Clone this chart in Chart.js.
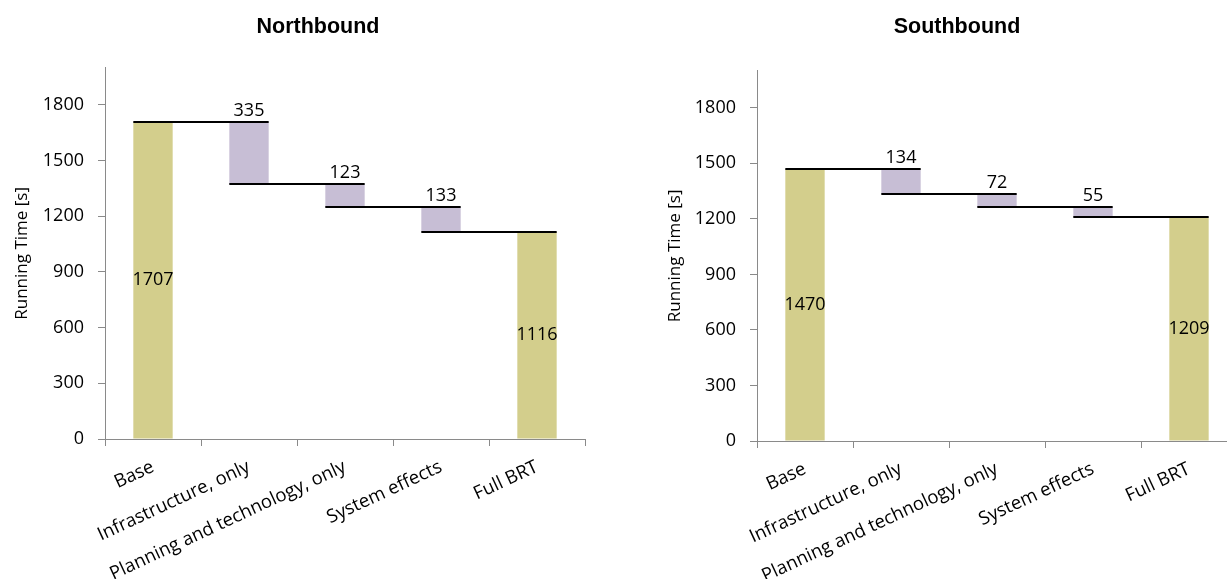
<!DOCTYPE html>
<html>
<head>
<meta charset="utf-8">
<script src="https://cdn.jsdelivr.net/npm/chart.js@4.4.1/dist/chart.umd.min.js"></script>
<style>
  html, body { margin: 0; padding: 0; background: #fff; overflow: hidden; }
  body { width: 1227px; height: 579px; position: relative; }
  .panel { position: absolute; top: 0; height: 579px; }
  #north-panel { left: 0; width: 630px; }
  #south-panel { left: 636px; width: 622px; }
</style>
</head>
<body>
<div class="panel" id="north-panel"><canvas id="chart-north"></canvas></div>
<div class="panel" id="south-panel"><canvas id="chart-south"></canvas></div>
<script>
const categories = ['Base', 'Infrastructure, only', 'Planning and technology, only', 'System effects', 'Full BRT'];
const northValues = [1707, 335, 123, 133, 1116];
const southValues = [1470, 134, 72, 55, 1209];
const yTicks = [0, 300, 600, 900, 1200, 1500, 1800];
const yMax = 2000;

const TOTAL_COLOR = '#d3ce8c';
const STEP_COLOR = '#c7bed5';
const AXIS_GRAY = '#8a8a8a';
const TEXT_FONT = 'Open Sans';

// first and last bars stand on zero, the middle ones hang from the running level
function buildSteps(values) {
    let level = values[0];
    return values.map((v, i) => {
        if (i === 0 || i === values.length - 1) return [0, v];
        const top = level;
        level -= v;
        return [level, top];
    });
}

const connectorPlugin = {
    id: 'connectors',
    afterDatasetsDraw(chart) {
        const ctx = chart.ctx;
        const bars = chart.getDatasetMeta(0).data;
        const steps = chart.data.datasets[0].data;
        const y = chart.scales.y;
        ctx.save();
        ctx.strokeStyle = '#000';
        ctx.lineWidth = 2;
        for (let i = 0; i < bars.length - 1; i++) {
            const level = i === 0 ? steps[0][1] : steps[i][0];
            const py = Math.round(y.getPixelForValue(level));
            ctx.beginPath();
            ctx.moveTo(bars[i].x - bars[i].width / 2, py);
            ctx.lineTo(bars[i + 1].x + bars[i + 1].width / 2, py);
            ctx.stroke();
        }
        ctx.restore();
    }
};

const valueLabelPlugin = {
    id: 'valueLabels',
    afterDatasetsDraw(chart) {
        const ctx = chart.ctx;
        const ds = chart.data.datasets[0];
        const bars = chart.getDatasetMeta(0).data;
        ctx.save();
        ctx.font = '18px "' + TEXT_FONT + '"';
        ctx.fillStyle = '#000';
        ctx.textAlign = 'center';
        bars.forEach((bar, i) => {
            const text = String(ds.values[i]);
            if (i === 0 || i === bars.length - 1) {
                ctx.textBaseline = 'middle';
                ctx.fillText(text, bar.x, (bar.y + bar.base) / 2);
            } else {
                ctx.textBaseline = 'alphabetic';
                ctx.fillText(text, bar.x, bar.y - 6);
            }
        });
        ctx.restore();
    }
};

function makeChart(id, title, values, cfg) {
    const ctx = document.getElementById(id).getContext('2d');
    return new Chart(ctx, {
        type: 'bar',
        data: {
            labels: categories,
            datasets: [{
                data: buildSteps(values),
                values: values,
                backgroundColor: values.map((v, i) => (i === 0 || i === values.length - 1) ? TOTAL_COLOR : STEP_COLOR),
                borderWidth: 0,
                categoryPercentage: 1,
                barPercentage: 0.41
            }]
        },
        options: {
            responsive: true,
            maintainAspectRatio: false,
            animation: false,
            layout: {
                padding: { left: cfg.padLeft, right: 0, top: 0, bottom: 0 }
            },
            plugins: {
                legend: { display: false },
                tooltip: { enabled: false },
                title: {
                    display: true,
                    text: title,
                    color: '#000',
                    font: { family: 'Liberation Sans', size: 21.5, weight: 'bold' },
                    padding: { top: 14, bottom: cfg.titleGap }
                }
            },
            scales: {
                x: {
                    grid: { display: true, drawOnChartArea: false, tickLength: 7, color: AXIS_GRAY },
                    border: { color: AXIS_GRAY },
                    ticks: {
                        autoSkip: false,
                        minRotation: 25,
                        maxRotation: 25,
                        padding: 10,
                        color: '#000',
                        font: { family: TEXT_FONT, size: 18.5 }
                    },
                    afterFit(scale) { scale.height = cfg.xHeight; }
                },
                y: {
                    min: 0,
                    max: yMax,
                    afterBuildTicks(scale) { scale.ticks = yTicks.map(v => ({ value: v })); },
                    grid: { display: true, drawOnChartArea: false, tickLength: 7, color: AXIS_GRAY },
                    border: { color: AXIS_GRAY },
                    ticks: {
                        padding: 14,
                        color: '#000',
                        font: { family: TEXT_FONT, size: 18 },
                        callback: v => String(v)
                    },
                    title: {
                        display: true,
                        text: 'Running Time [s]',
                        color: '#000',
                        font: { family: TEXT_FONT, size: 17 },
                        padding: { top: cfg.yTitlePad, bottom: 0 }
                    },
                    afterFit(scale) { scale.width = cfg.yWidth; }
                },
                // empty spacer on the right so the title sits where the original has it
                spacer: {
                    type: 'linear',
                    position: 'right',
                    grid: { display: false },
                    border: { display: false },
                    ticks: { display: false },
                    afterFit(scale) { scale.width = cfg.rightGap; }
                }
            }
        },
        plugins: [connectorPlugin, valueLabelPlugin]
    });
}

makeChart('chart-north', 'Northbound', northValues, {
    padLeft: 6, yWidth: 99, yTitlePad: 6, rightGap: 45, titleGap: 28, xHeight: 140
});
makeChart('chart-south', 'Southbound', southValues, {
    padLeft: 20, yWidth: 101, yTitlePad: 9, rightGap: 21, titleGap: 31, xHeight: 138
});
</script>
</body>
</html>
